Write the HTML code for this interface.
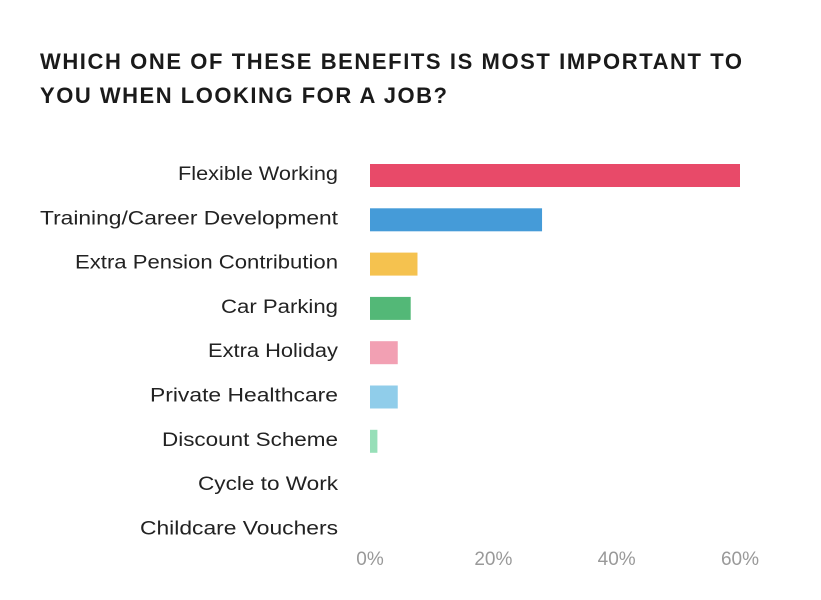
<!DOCTYPE html>
<html><head><meta charset="utf-8"><style>
html,body{margin:0;padding:0;background:#fff;}
svg{display:block;font-family:"Liberation Sans",sans-serif;}
</style></head><body>
<svg id="chart" width="821" height="600" viewBox="0 0 821 600" xmlns="http://www.w3.org/2000/svg">
<text x="40" y="69" font-size="22" font-weight="bold" fill="#1a1a1a" textLength="702" lengthAdjust="spacing">WHICH ONE OF THESE BENEFITS IS MOST IMPORTANT TO</text>
<text x="40" y="103" font-size="22" font-weight="bold" fill="#1a1a1a" textLength="407" lengthAdjust="spacing">YOU WHEN LOOKING FOR A JOB?</text>
<g id="bars"></g><g id="labels"></g><g id="ticks"></g>
</svg>
<script>
const categories = ["Flexible Working","Training/Career Development","Extra Pension Contribution","Car Parking","Extra Holiday","Private Healthcare","Discount Scheme","Cycle to Work","Childcare Vouchers"];
const values = [60, 27.9, 7.7, 6.6, 4.5, 4.5, 1.2, 0, 0];
const colors = ["#e84a69","#459bd8","#f5c24f","#53b877","#f2a0b3","#90cdea","#97dfb8","#ccc","#ccc"];
const tickValues = [0, 20, 40, 60];
const tickLabels = ["0%","20%","40%","60%"];
const labelLefts = [178,40,75,221,208,150,162,198,140];

const NS = "http://www.w3.org/2000/svg";
const x0 = 370, pxPerUnit = 370/60;
function xScale(v){ return x0 + v*pxPerUnit; }
function yBand(i){ return 164 + i*44.3; }
const barH = 23;
const bars = document.getElementById('bars'), labels = document.getElementById('labels'), ticks = document.getElementById('ticks');
categories.forEach((c,i)=>{
  if (values[i] > 0) {
    const r = document.createElementNS(NS,'rect');
    
    
    r.setAttribute('x', xScale(0));
    r.setAttribute('y', yBand(i));
    r.setAttribute('width', xScale(values[i]) - xScale(0));
    r.setAttribute('height', barH);
    r.setAttribute('fill', colors[i]);
    bars.appendChild(r);
  }
  const t = document.createElementNS(NS,'text');
  
  
  t.setAttribute('x', 338);
  t.setAttribute('y', yBand(i) + 16);
  t.setAttribute('text-anchor', 'end');
  t.setAttribute('font-size', '19');
  t.setAttribute('fill', '#222');
  t.setAttribute('textLength', 338 - labelLefts[i]);
  t.setAttribute('lengthAdjust', 'spacingAndGlyphs');
  t.textContent = c;
  labels.appendChild(t);
});
tickValues.forEach((v,i)=>{
  const t = document.createElementNS(NS,'text');
  
  
  t.setAttribute('x', xScale(v));
  t.setAttribute('y', 565);
  t.setAttribute('text-anchor', 'middle');
  t.setAttribute('font-size', '19');
  t.setAttribute('fill', '#999');
  t.textContent = tickLabels[i];
  ticks.appendChild(t);
});
</script>
</body></html>
